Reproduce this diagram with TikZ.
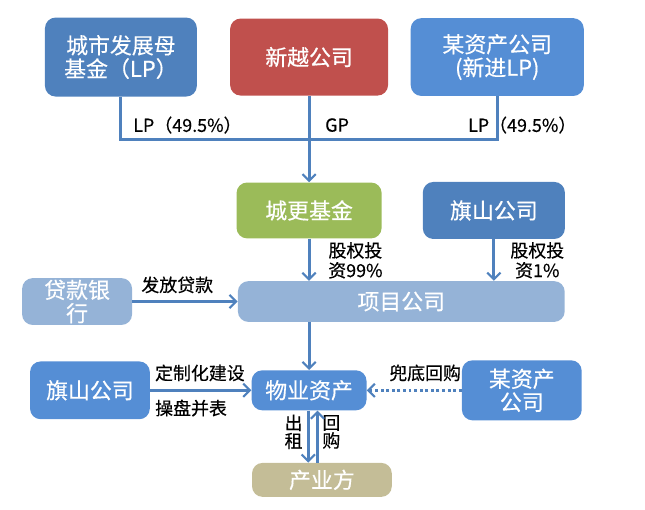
\documentclass[tikz,border=0pt]{standalone}
\usepackage{fontspec}
\setmainfont{Noto Sans CJK SC}[FakeBold=0.4]
\usetikzlibrary{shapes.geometric, arrows, arrows.meta}
\definecolor{darkblue}{HTML}{4F81BD}
\definecolor{midblue}{HTML}{558ED5}
\definecolor{lightblue}{HTML}{95B3D7}
\definecolor{gpred}{HTML}{C0504D}
\definecolor{fundgreen}{HTML}{9BBB59}
\definecolor{khaki}{HTML}{C4BD97}
\definecolor{linecol}{HTML}{4F81BD}
\newcommand{\boxfont}{\fontsize{16.5}{17.5}\selectfont}
\newcommand{\lblfont}{\fontsize{13.5}{15}\selectfont}
\tikzstyle{box} = [rectangle, rounded corners=8pt, align=center, text=white, font=\boxfont, inner sep=0pt]
\tikzstyle{darkbox} = [box, fill=darkblue]
\tikzstyle{midbox} = [box, fill=midblue]
\tikzstyle{lightbox} = [box, fill=lightblue]
\tikzstyle{redbox} = [box, fill=gpred]
\tikzstyle{greenbox} = [box, fill=fundgreen]
\tikzstyle{khakibox} = [box, fill=khaki]
\tikzstyle{lbl} = [align=center, font=\lblfont, inner sep=0pt, text=black]
\tikzstyle{tightlbl} = [lbl, font=\fontsize{13.5}{13.5}\selectfont]
\tikzstyle{line} = [line width=2.2pt, draw=linecol]
\tikzstyle{arrow} = [line width=2.2pt, draw=linecol, ->, >={Straight Barb[length=5pt, width=10pt, line width=1.6pt]}]
\tikzstyle{dotarrow} = [arrow, dotted]
\begin{document}
\begin{tikzpicture}[x=1cm,y=1cm, node distance=2cm]
\useasboundingbox (0,0) rectangle (17.07,-13.49);
%%%%% ADDING MAIN BLOCKS
\node (xinyue) [redbox, minimum width=4.18cm, minimum height=2.04cm] at (8.18,-1.51) {新越公司};
\node (fund) [darkbox, minimum width=4.02cm, minimum height=2.09cm, node distance=4.98cm, left of=xinyue] {城市发展母\\基金（LP）};
\node (asset) [midbox, minimum width=4.58cm, minimum height=2.06cm, node distance=4.98cm, right of=xinyue] {某资产公司\\(新进LP)};
\node (cityfund) [greenbox, minimum width=3.84cm, minimum height=1.48cm, node distance=4.06cm, below of=xinyue] {城更基金};
\node (qishan1) [darkbox, minimum width=3.76cm, minimum height=1.51cm, node distance=4.89cm, right of=cityfund] {旗山公司};
\node (project) [lightbox, minimum width=8.65cm, minimum height=1.08cm, node distance=2.41cm, below of=cityfund, xshift=2.44cm] {项目公司};
\node (bank) [lightbox, minimum width=2.91cm, minimum height=1.24cm, node distance=8.58cm, left of=project] {贷款银\\行};
\node (property) [midbox, minimum width=3.04cm, minimum height=1.06cm, node distance=4.76cm, below of=cityfund] {物业资产};
\node (qishan2) [midbox, minimum width=3.17cm, minimum height=1.53cm, node distance=5.80cm, left of=property] {旗山公司};
\node (asset2) [midbox, minimum width=3.17cm, minimum height=1.59cm, node distance=5.63cm, right of=property] {某资产\\公司};
\node (industry) [khakibox, minimum width=3.70cm, minimum height=0.90cm, node distance=2.37cm, below of=property, xshift=0.34cm] {产业方};

%%%%% ADDING LABELS
\node (lpleft) [lbl, anchor=west] at (3.52,-3.31) {LP（49.5\%）};
\node (gp) [lbl, anchor=west] at (8.60,-3.31) {GP};
\node (lpright) [lbl, anchor=west] at (12.38,-3.31) {LP（49.5\%）};
\node (equity99) [lbl, anchor=west] at (8.68,-6.89) {股权投\\资99\%};
\node (equity1) [lbl] at (14.22,-6.89) {股权投\\资1\%};
\node (loan) [lbl] at (4.69,-7.54) {发放贷款};
\node (custom) [lbl] at (5.29,-9.87) {定制化建设};
\node (consolidate) [lbl, anchor=west] at (4.10,-10.80) {操盘并表};
\node (guarantee) [lbl] at (11.25,-9.87) {兜底回购};
\node (rent) [tightlbl] at (7.77,-11.43) {出\\租};
\node (buyback) [tightlbl] at (8.77,-11.43) {回\\购};

%%%%% ADDING ARROWS
\coordinate (join) at (8.18,-3.70);
\draw [line] (fund.south) |- (join) -| (asset.south);
\draw [arrow] (xinyue.south) -- (cityfund.north);
\draw [arrow] (cityfund.south) -- (cityfund.south |- project.north);
\draw [arrow] (qishan1.south) -- (qishan1.south |- project.north);
\draw [arrow] (bank.east) -- (project.west);
\draw [arrow] (project.south -| property.north) -- (property.north);
\draw [arrow] (qishan2.east) -- (qishan2.east -| property.west);
\draw [dotarrow] (asset2.west) -- (asset2.west -| property.east);
\draw [arrow] ([xshift=-0.02cm]property.south) -- ([xshift=-0.02cm]property.south |- industry.north);
\draw [arrow] ([xshift=0.22cm]property.south |- industry.north) -- ([xshift=0.22cm]property.south);
\end{tikzpicture}
\end{document}
